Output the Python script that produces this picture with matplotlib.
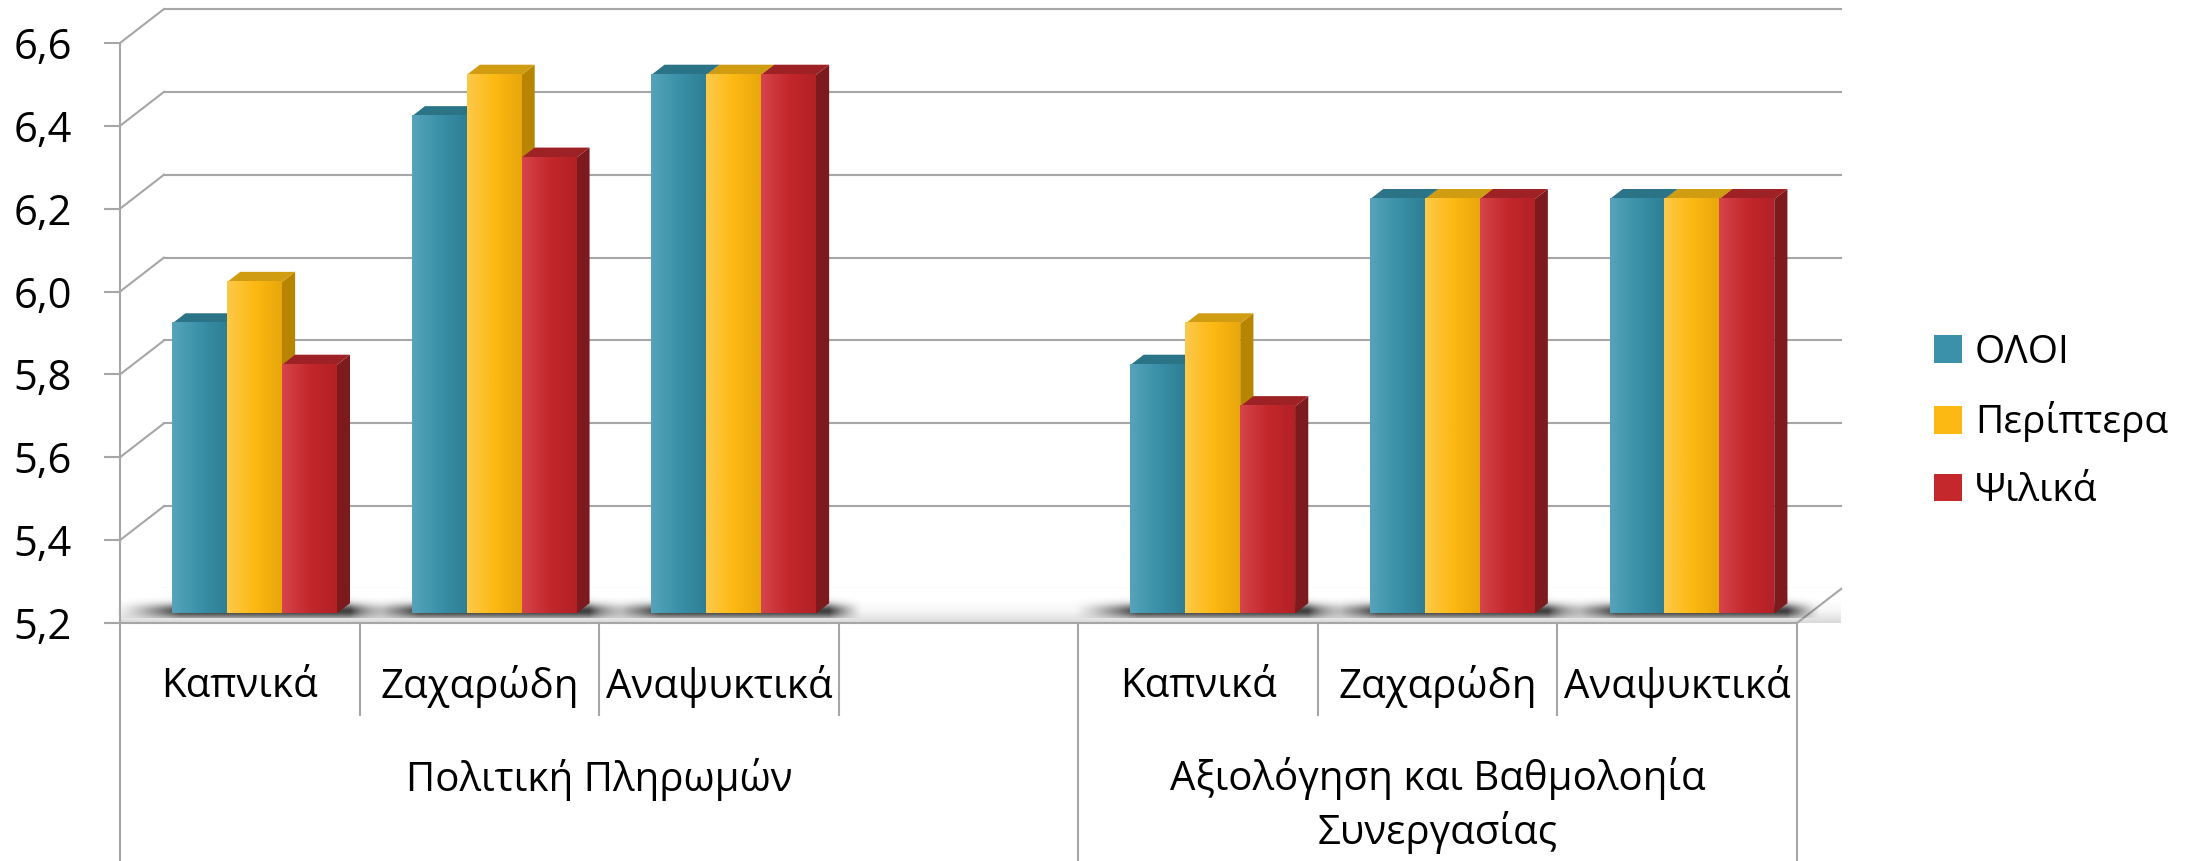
import numpy as np
import matplotlib
matplotlib.use('Agg')
import matplotlib.pyplot as plt
from matplotlib.patches import Polygon, Rectangle, Patch
from matplotlib.colors import LinearSegmentedColormap

plt.rcParams['font.family'] = ['Open Sans', 'DejaVu Sans']

# data
groups = ['Πολιτική Πληρωμών', 'Αξιολόγηση και Βαθμολοηία\nΣυνεργασίας']
group_spans = [(0, 4), (4, 7)]
categories = ['Καπνικά', 'Ζαχαρώδη', 'Αναψυκτικά', '', 'Καπνικά', 'Ζαχαρώδη', 'Αναψυκτικά']
series = ['ΟΛΟΙ', 'Περίπτερα', 'Ψιλικά']
oloi = [5.9, 6.4, 6.5, None, 5.8, 6.2, 6.2]
periptera = [6.0, 6.5, 6.5, None, 5.9, 6.2, 6.2]
psilika = [5.8, 6.3, 6.5, None, 5.7, 6.2, 6.2]
yticks = [5.2, 5.4, 5.6, 5.8, 6.0, 6.2, 6.4, 6.6]

# colours: front gradient (light, mid, dark), side, top
styles = [
    (['#55A3BA', '#3A91A9', '#2E7F95'], '#25687B', '#2B7386'),
    (['#FDC94A', '#FDB913', '#EAA70B'], '#B88500', '#CF9C12'),
    (['#D4444A', '#C4272C', '#B32126'], '#7D1A1D', '#9D2125'),
]
grid_c = '#A6A6A6'

W, H, DPI = 2208, 861, 100
fig = plt.figure(figsize=(W / DPI, H / DPI), dpi=DPI)
left, right, top_px, base_px = 120, 1797, 43, 623
ax = fig.add_axes([left / W, 1 - base_px / H, (right - left) / W, (base_px - top_px) / H])
y0, y1 = yticks[0], yticks[-1]
n = len(categories)
ax.set_xlim(0, n)
ax.set_ylim(y0, y1)

# depth offset (back wall relative to front plane), in data units
ddx = 44 / ((right - left) / n)
ddy = 34 / ((base_px - top_px) / (y1 - y0))
f0, f1 = 0.28, 0.58   # bar front/back depth

# back wall gridlines + side wall diagonals
for v in yticks:
    ax.plot([ddx, n + ddx], [v + ddy, v + ddy], color=grid_c, lw=1.5, clip_on=False, zorder=1)
    ax.plot([0, ddx], [v, v + ddy], color=grid_c, lw=1.5, clip_on=False, zorder=1)

# floor
floor = Polygon([(0, y0), (n, y0), (n + ddx, y0 + ddy), (ddx, y0 + ddy)], closed=True,
                facecolor='none', edgecolor='none', clip_on=False)
ax.add_patch(floor)
fgrad = np.linspace(0, 1, 64).reshape(-1, 1)
fcm = LinearSegmentedColormap.from_list('floor', ['#DADADA', '#F6F6F6', '#FFFFFF', '#FFFFFF'])
im = ax.imshow(fgrad, extent=(0, n + ddx, y0, y0 + ddy), origin='lower', aspect='auto',
               cmap=fcm, zorder=1.2, clip_on=False)
im.set_clip_path(floor)
ax.plot([0, n, n + ddx], [y0, y0, y0 + ddy], color=grid_c, lw=1.5, clip_on=False, zorder=1.3)

# bars
values = [oloi, periptera, psilika]
bw = 0.229
for i in range(n):
    if values[0][i] is None:
        continue
    start = i + 0.51 - 1.5 * bw
    # soft floor shadow behind/left of the cluster
    sx = start + f0 * ddx
    se = sx + 3 * bw + (f1 - f0) * ddx
    xa, xb = sx - 0.24, se + 0.14
    ya, yb = y0 + f0 * ddy - 0.01, y0 + (f0 + 0.55) * ddy
    gx = np.linspace(xa, xb, 240)
    gy = np.linspace(ya, yb, 40)
    ax_ = np.clip(np.minimum((gx - xa) / (sx + 0.03 - xa), (xb - gx) / (xb - se)), 0, 1) ** 1.3
    ay_ = np.exp(-((gy - (ya + 0.3 * (yb - ya))) / (0.32 * (yb - ya))) ** 2)
    rgba = np.zeros((40, 240, 4))
    rgba[..., :3] = 0.12
    rgba[..., 3] = 0.85 * ay_[:, None] * ax_[None, :]
    ax.imshow(rgba, extent=(xa, xb, ya, yb), origin='lower', aspect='auto',
              zorder=1.5, clip_on=False, interpolation='bilinear')
    for s in range(3):
        v = values[s][i]
        grads, side_c, top_c = styles[s]
        x0 = start + s * bw + f0 * ddx
        b0 = y0 + f0 * ddy
        t0 = v + f0 * ddy
        ex = (f1 - f0) * ddx
        ey = (f1 - f0) * ddy
        z = 3 + s * 0.1
        side = Polygon([(x0 + bw, b0), (x0 + bw + ex, b0 + ey), (x0 + bw + ex, t0 + ey), (x0 + bw, t0)],
                       closed=True, facecolor=side_c, edgecolor='none', clip_on=False, zorder=z)
        topf = Polygon([(x0, t0), (x0 + bw, t0), (x0 + bw + ex, t0 + ey), (x0 + ex, t0 + ey)],
                       closed=True, facecolor=top_c, edgecolor='none', clip_on=False, zorder=z)
        ax.add_patch(side)
        ax.add_patch(topf)
        front = Rectangle((x0, b0), bw, v - y0, facecolor=grads[1], edgecolor='none',
                          clip_on=False, zorder=z)
        ax.add_patch(front)
        cm = LinearSegmentedColormap.from_list('g%d' % s, grads)
        g = ax.imshow(np.linspace(0, 1, 32).reshape(1, -1), extent=(x0, x0 + bw, b0, t0),
                      aspect='auto', cmap=cm, zorder=z + 0.01, clip_on=False)
        g.set_clip_path(front)

ax.set_xlim(0, n)
ax.set_ylim(y0, y1)

# axes
for sp in ['top', 'right', 'bottom']:
    ax.spines[sp].set_visible(False)
ax.spines['left'].set_color(grid_c)
ax.spines['left'].set_linewidth(1.5)
ax.set_yticks(yticks)
ax.set_yticklabels([('%.1f' % t).replace('.', ',') for t in yticks])
ax.tick_params(axis='y', length=11.5, width=1.5, color=grid_c, pad=23, labelsize=30)
ax.set_xticks([])

# category axis (two levels)
xt = ax.get_xaxis_transform()
for k in range(n + 1):
    outer = k in (0, 4, 7)
    ax.plot([k, k], [0, -0.42 if outer else -0.158], color=grid_c, lw=1.5,
            transform=xt, clip_on=False)
for i, c in enumerate(categories):
    ax.text(i + 0.5, -0.11, c, transform=xt, ha='center', va='center', fontsize=29)
for g, (a, b) in zip(groups, group_spans):
    ax.text((a + b) / 2, -0.27 if '\n' not in g else -0.315, g, transform=xt,
            ha='center', va='center', fontsize=29, linespacing=1.35)

handles = [Patch(facecolor=st[0][1]) for st in styles]
fig.legend(handles, series, loc='center left', bbox_to_anchor=(1899 / W, 1 - 422 / H),
           frameon=False, fontsize=28, handlelength=0.72, handleheight=0.72,
           handletextpad=0.33, labelspacing=0.76)

fig.savefig('out.png', dpi=DPI)
